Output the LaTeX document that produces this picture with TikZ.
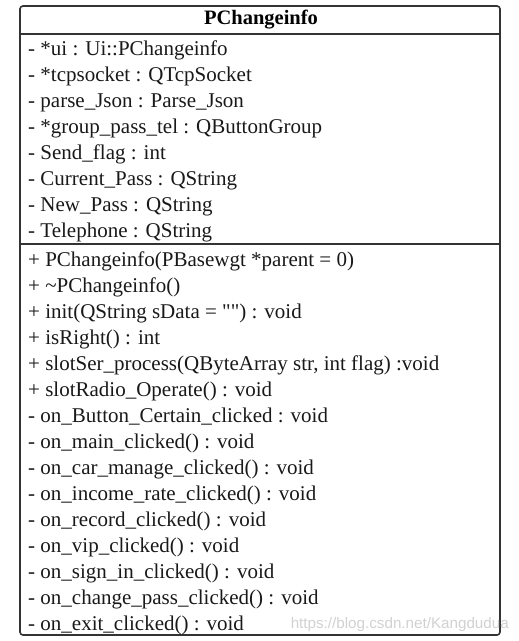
\documentclass[tikz,border=0pt]{standalone}
\usepackage{fontspec}
\setmainfont{Liberation Serif}[Ligatures=TeXOff]
\newfontfamily\markfont{Liberation Sans}
\usetikzlibrary{positioning}

\begin{document}
\begin{tikzpicture}[x=1pt,y=-1pt,
  frame/.style={draw=black!80,line width=1.6pt,rounded corners=3pt},
  rule/.style={draw=black!80,line width=1.6pt},
  title/.style={font=\fontsize{20.5}{22}\selectfont\bfseries,inner sep=0pt},
  member/.style={font=\fontsize{21}{23}\selectfont,anchor=base west,inner sep=0pt,text=black!90},
  watermark/.style={font=\markfont\fontsize{15.2}{17}\selectfont,text=black!18,anchor=base east,inner sep=0pt}]
\useasboundingbox (0,0) rectangle (519,641);
\draw[frame] (20,6) rectangle (500,635);
\draw[rule] (20,34) -- (500,34);
\draw[rule] (20,244) -- (500,244);
\node[title] (name) at (261,20) {PChangeinfo};
% attributes
\node[member] (ui) at (28,55) {- *ui : Ui::PChangeinfo};
\node[member] (sock) at (28,81) {- *tcpsocket : QTcpSocket};
\node[member] (json) at (28,107) {- parse\_Json : Parse\_Json};
\node[member] (group) at (28,133) {- *group\_pass\_tel : QButtonGroup};
\node[member] (flag) at (28,159) {- Send\_flag : int};
\node[member] (cur) at (28,185) {- Current\_Pass : QString};
\node[member] (new) at (28,211) {- New\_Pass : QString};
\node[member] (tel) at (28,237) {- Telephone : QString};
% operations
\node[member] (ctor) at (28,266) {+ PChangeinfo(PBasewgt *parent = 0)};
\node[member] (dtor) at (28,292) {+ \char"007EPChangeinfo()};
\node[member] (init) at (28,318) {+ init(QString sData = \char"0022\char"0022) : void};
\node[member] (right) at (28,344) {+ isRight() : int};
\node[member] (ser) at (28,370) {+ slotSer\_process(QByteArray str, int flag) :void};
\node[member] (radio) at (28,396) {+ slotRadio\_Operate() : void};
\node[member] (certain) at (28,422) {- on\_Button\_Certain\_clicked : void};
\node[member] (main) at (28,448) {- on\_main\_clicked() : void};
\node[member] (car) at (28,474) {- on\_car\_manage\_clicked() : void};
\node[member] (income) at (28,500) {- on\_income\_rate\_clicked() : void};
\node[member] (record) at (28,526) {- on\_record\_clicked() : void};
\node[member] (vip) at (28,552) {- on\_vip\_clicked() : void};
\node[member] (sign) at (28,578) {- on\_sign\_in\_clicked() : void};
\node[member] (pass) at (28,604) {- on\_change\_pass\_clicked() : void};
\node[member] (exit) at (28,630) {- on\_exit\_clicked() : void};
\node[watermark] (url) at (509,628) {https://blog.csdn.net/Kangdudua};
\end{tikzpicture}
\end{document}
